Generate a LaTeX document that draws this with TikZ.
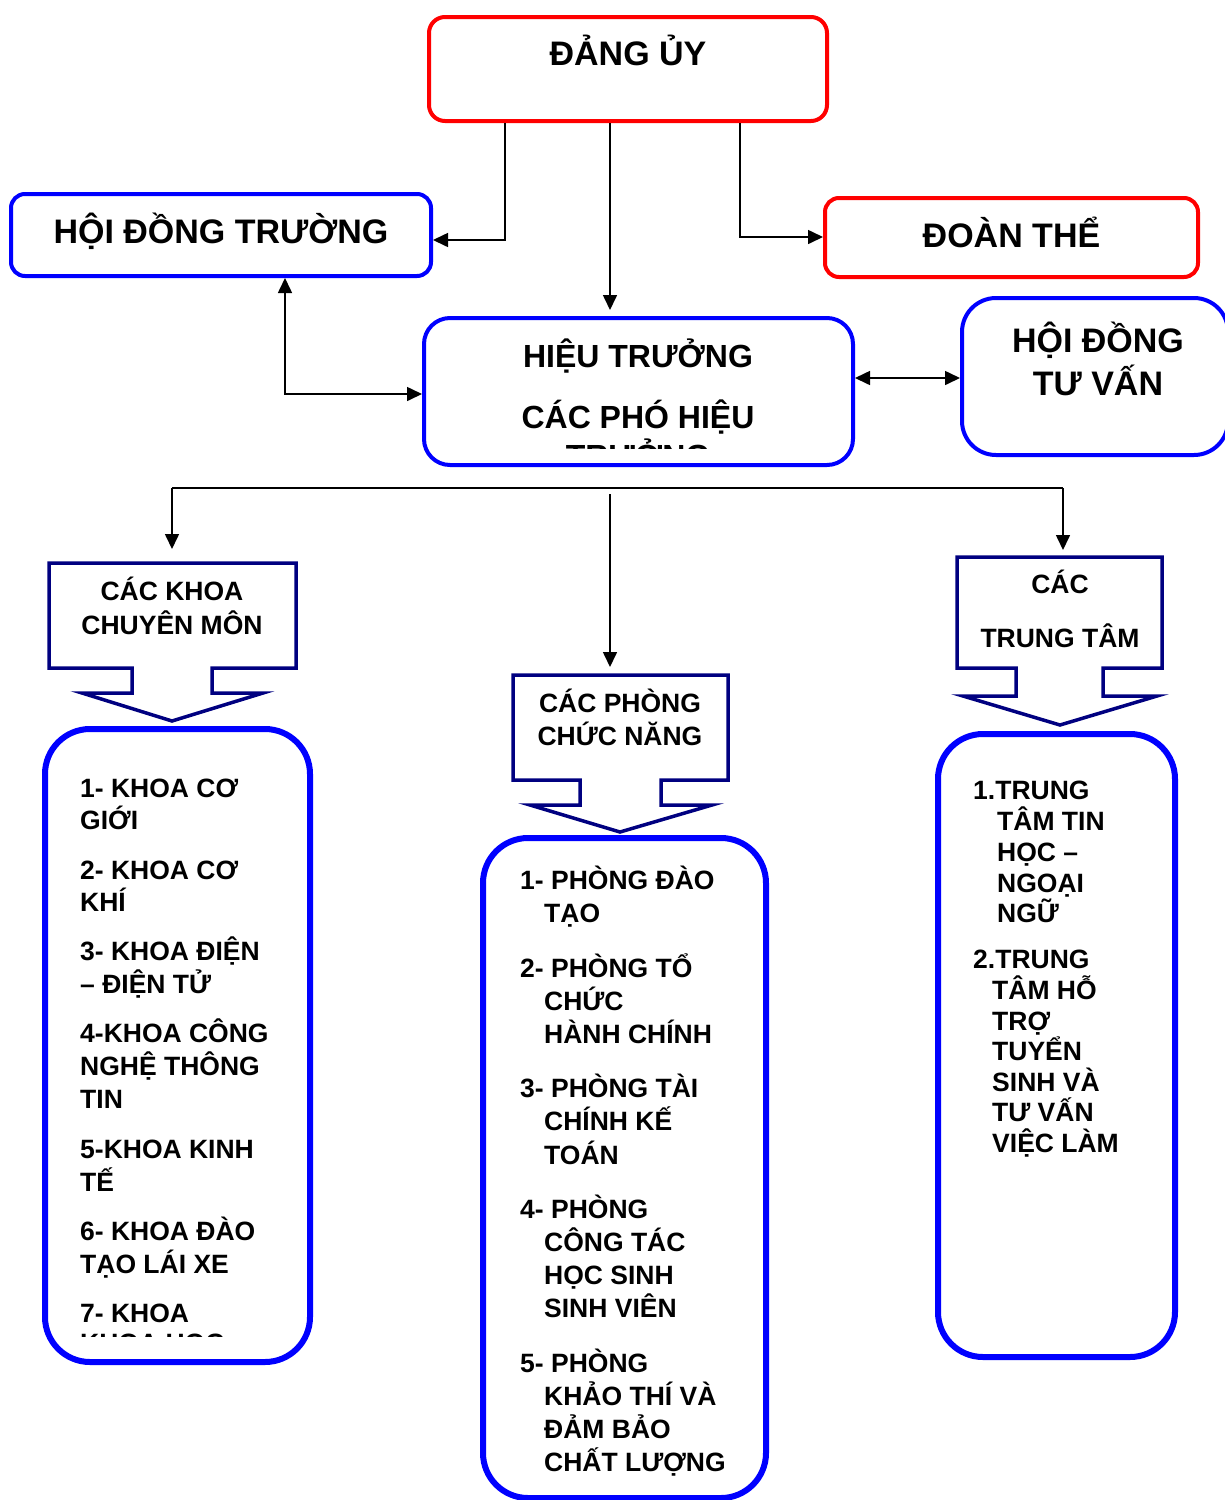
\documentclass[tikz,border=0pt]{standalone}
\usepackage{fontspec}
\setmainfont{Liberation Sans}
\usetikzlibrary{arrows.meta}
\definecolor{partyred}{RGB}{255,0,0}
\definecolor{unitblue}{RGB}{0,0,255}
\definecolor{navyline}{RGB}{0,0,128}

\begin{document}
\begin{tikzpicture}[x=1pt,y=-1pt,
  redbox/.style={draw=partyred, line width=4pt, rounded corners=#1, inner sep=0pt},
  bluebox/.style={draw=unitblue, line width=4pt, rounded corners=#1, inner sep=0pt},
  listbox/.style={draw=unitblue, line width=6pt, rounded corners=45pt, inner sep=0pt},
  callout/.style={draw=navyline, line width=3.5pt, line join=miter},
  conn/.style={draw=black, line width=1.6pt, -{Triangle[length=15pt,width=14pt]}},
  conn2/.style={draw=black, line width=1.6pt, {Triangle[length=15pt,width=14pt]}-{Triangle[length=15pt,width=14pt]}},
  plain/.style={draw=black, line width=1.6pt},
  title/.style={inner sep=0pt, anchor=base, font=\fontsize{34}{40}\selectfont\bfseries},
  subtitle/.style={inner sep=0pt, anchor=base, font=\fontsize{32}{38}\selectfont\bfseries},
  tag/.style={inner sep=0pt, anchor=base, font=\fontsize{26.5}{31}\selectfont\bfseries},
  item/.style={inner sep=0pt, anchor=base west, font=\fontsize{26.5}{31}\selectfont\bfseries},
]
\useasboundingbox (0,0) rectangle (1225,1500);
\clip (0,0) rectangle (1225,1500);

% ---------- upper boxes ----------
\node[redbox=16pt, minimum width=398pt, minimum height=104pt] (du) at (628,69) {};
\node[title] (duT) at (628,65) {ĐẢNG ỦY};

\node[bluebox=14pt, minimum width=420pt, minimum height=82pt] (hdt) at (221,235) {};
\node[title] (hdtT) at (221,243) {HỘI ĐỒNG TRƯỜNG};

\node[redbox=14pt, minimum width=373pt, minimum height=79pt] (dt) at (1011.5,237.5) {};
\node[title] (dtT) at (1011.5,247) {ĐOÀN THỂ};

\node[bluebox=26pt, minimum width=429pt, minimum height=147pt] (ht) at (638.5,391.5) {};
\node[subtitle] (htT1) at (638,367) {HIỆU TRƯỞNG};
\node[subtitle] (htT2) at (638,428) {CÁC PHÓ HIỆU};
\begin{scope}
  \clip (430,320) rectangle (850,448);
  \node[subtitle] (htT3) at (638,467) {TRƯỞNG};
\end{scope}

\node[bluebox=34pt, minimum width=266pt, minimum height=157pt] (tv) at (1095,376.5) {};
\node[title] (tvT1) at (1098,352) {HỘI ĐỒNG};
\node[title] (tvT2) at (1098,395) {TƯ VẤN};

% ---------- upper connectors ----------
\coordinate (j1) at (505,240);
\coordinate (j2) at (610,310);
\coordinate (j3) at (740,237);
\coordinate (j4) at (285,394);
\coordinate (j5) at (905,378);
\draw[conn] (du.south -| j1) |- (hdt.east |- j1);
\draw[conn] (du.south -| j2) -- (j2);
\draw[conn] (du.south -| j3) |- (dt.west |- j3);
\draw[conn2] (hdt.south -| j4) |- (ht.west |- j4);
\draw[conn2] (ht.east |- j5) -- (tv.west |- j5);

% ---------- distribution line ----------
\coordinate (hl) at (172,488);
\coordinate (hr) at (1063,488);
\coordinate (hm) at (610,494);
\coordinate (ckTop) at (172,549);
\coordinate (cpTop) at (610,667);
\coordinate (ctTop) at (1063,550);
\draw[plain] (hl) -- (hr);
\draw[conn] (hl) -- (ckTop);
\draw[conn] (hm) -- (cpTop);
\draw[conn] (hr) -- (ctTop);

% ---------- arrow callouts ----------
\draw[callout] (49,563) -- (296,563) -- (296,668) -- (212,668) -- (212,693)
  -- (263,693) -- (172,721) -- (82,693) -- (132,693) -- (132,668) -- (49,668) -- cycle;
\node[tag] (ckT1) at (172,600) {CÁC KHOA};
\node[tag] (ckT2) at (172,634) {CHUYÊN MÔN};

\draw[callout] (513,675) -- (728,675) -- (728,780) -- (661,780) -- (661,805)
  -- (712,805) -- (620,832) -- (530,805) -- (580,805) -- (580,780) -- (513,780) -- cycle;
\node[tag] (cpT1) at (620,712) {CÁC PHÒNG};
\node[tag] (cpT2) at (620,745) {CHỨC NĂNG};

\draw[callout] (957,557) -- (1162,557) -- (1162,668) -- (1103,668) -- (1103,696)
  -- (1157,696) -- (1060,725) -- (963,696) -- (1016,696) -- (1016,668) -- (957,668) -- cycle;
\node[tag] (ctT1) at (1060,593) {CÁC};
\node[tag] (ctT2) at (1060,647) {TRUNG TÂM};

% ---------- list boxes ----------
\node[listbox, minimum width=265pt, minimum height=633pt] (bl) at (177.5,1045.5) {};
\node[listbox, minimum width=283pt, minimum height=660pt] (bm) at (624.5,1168) {};
\node[listbox, minimum width=237pt, minimum height=623pt] (br) at (1056.5,1045.5) {};

% faculties
\foreach \t/\x/\y [count=\i] in {
  1- KHOA CƠ/80/797, GIỚI/80/829,
  2- KHOA CƠ/80/879, KHÍ/80/911,
  3- KHOA ĐIỆN/80/960, – ĐIỆN TỬ/80/993,
  4-KHOA CÔNG/80/1042, NGHỆ THÔNG/80/1075, TIN/80/1108,
  5-KHOA KINH/80/1158, TẾ/80/1191,
  6- KHOA ĐÀO/80/1240, TẠO LÁI XE/80/1273,
  7- KHOA/80/1322}
  \node[item, name=fac\i] at (\x,\y) {\t};
\begin{scope}
  \clip (60,1300) rectangle (300,1336);
  \node[item] (fac15) at (80,1352) {KHOA HỌC};
\end{scope}

% offices
\foreach \t/\x/\y [count=\i] in {
  1- PHÒNG ĐÀO/520/889, TẠO/544/922,
  2- PHÒNG TỔ/520/977, CHỨC/544/1010, HÀNH CHÍNH/544/1043,
  3- PHÒNG TÀI/520/1097, CHÍNH KẾ/544/1130, TOÁN/544/1164,
  4- PHÒNG/520/1218, CÔNG TÁC/544/1251, HỌC SINH/544/1284, SINH VIÊN/544/1317,
  5- PHÒNG/520/1372, KHẢO THÍ VÀ/544/1405, ĐẢM BẢO/544/1438, CHẤT LƯỢNG/544/1471}
  \node[item, name=off\i] at (\x,\y) {\t};

% centres
\foreach \t/\x/\y [count=\i] in {
  1.TRUNG/973/799, TÂM TIN/997/830, HỌC –/997/861, NGOẠI/997/892, NGỮ/997/922,
  2.TRUNG/973/968, TÂM HỖ/992/999, TRỢ/992/1030, TUYỂN/992/1060,
  SINH VÀ/992/1091, TƯ VẤN/992/1121, VIỆC LÀM/992/1152}
  \node[item, name=cen\i] at (\x,\y) {\t};
\end{tikzpicture}
\end{document}
